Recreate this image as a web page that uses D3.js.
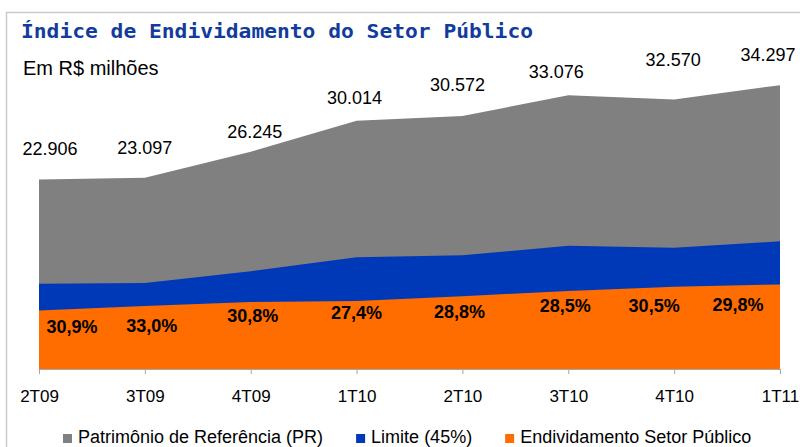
<!DOCTYPE html>
<html>
<head>
<meta charset="utf-8">
<script src="https://cdn.jsdelivr.net/npm/d3@7"></script>
<style>
  body { margin: 0; background: #fff; }
  svg { display: block; }
</style>
</head>
<body>
<script>
// quarters and values (R$ milhões)
var quarters = ["2T09", "3T09", "4T09", "1T10", "2T10", "3T10", "4T10", "1T11"];
var patrimonio = [22906, 23097, 26245, 30014, 30572, 33076, 32570, 34297];
var limite = [10308, 10394, 11810, 13506, 13757, 14884, 14657, 15434];
var endividamento = [7078, 7622, 8083, 8224, 8805, 9427, 9934, 10220];
var pctLabels = ["30,9%", "33,0%", "30,8%", "27,4%", "28,8%", "28,5%", "30,5%", "29,8%"];
var legendNames = ["Patrimônio de Referência (PR)", "Limite (45%)", "Endividamento Setor Público"];

// label nudges (px) as in the original layout
var valNudge = [[11, -31], [0, -30], [4, -20], [-2, -23], [-5, -31], [-12, -24], [-1, -40], [-12, -30]];
var pctNudge = [[33, 16], [7, 20], [2, 14], [0, 12], [-3, 16], [-3, 15], [-20, 19], [-42, 20]];

var colors = ["#808080", "#0039b8", "#ff6c00"];
var width = 800, height = 447;

var svg = d3.select("body").append("svg")
  .attr("width", width)
  .attr("height", height);

// frame
svg.append("path")
  .attr("d", "M6.5," + height + "V12.5H" + width)
  .attr("fill", "none")
  .attr("stroke", "#cccccc")
  .attr("stroke-width", 1.5);

svg.append("text")
  .attr("x", 21)
  .attr("y", 38)
  .attr("textLength", 512)
  .attr("lengthAdjust", "spacingAndGlyphs")
  .style("font-family", "'DejaVu Sans Mono', 'Liberation Mono', monospace")
  .style("font-weight", "bold")
  .style("font-size", "20px")
  .style("fill", "#123c9c")
  .text("Índice de Endividamento do Setor Público");

svg.append("text")
  .attr("x", 23)
  .attr("y", 75)
  .style("font-family", "'Liberation Sans', Arial, sans-serif")
  .style("font-size", "20px")
  .style("fill", "#000")
  .text("Em R$ milhões");

var x = d3.scalePoint().domain(quarters).range([39, 780]);
var y = d3.scaleLinear().domain([0, 40000]).range([369, 38]);

var series = [patrimonio, limite, endividamento];

var area = d3.area()
  .x(function(d, i) { return x(quarters[i]); })
  .y0(y(0))
  .y1(function(d) { return y(d); });

svg.selectAll("path.area")
  .data(series)
  .enter()
  .append("path")
  .attr("class", "area")
  .attr("d", function(d) { return area(d); })
  .attr("fill", function(d, i) { return colors[i]; });

// x axis
var axis = svg.append("g")
  .attr("transform", "translate(0," + y(0) + ")")
  .call(d3.axisBottom(x).tickSize(5).tickPadding(16).tickSizeOuter(0));
axis.select(".domain").attr("stroke", "#a6a6a6");
axis.selectAll(".tick line").attr("stroke", "#a6a6a6");
axis.selectAll(".tick text")
  .style("font-family", "'Liberation Sans', Arial, sans-serif")
  .style("font-size", "17px")
  .style("fill", "#000");

// value labels
svg.selectAll("text.val")
  .data(patrimonio)
  .enter()
  .append("text")
  .attr("class", "val")
  .attr("x", function(d, i) { return x(quarters[i]) + valNudge[i][0]; })
  .attr("y", function(d, i) { return y(d) + valNudge[i][1]; })
  .attr("dy", "0.35em")
  .attr("text-anchor", "middle")
  .style("font-family", "'Liberation Sans', Arial, sans-serif")
  .style("font-size", "18px")
  .style("fill", "#000")
  .text(function(d) { return d3.format(",")(d).replace(",", "."); });

svg.selectAll("text.pct")
  .data(endividamento)
  .enter()
  .append("text")
  .attr("class", "pct")
  .attr("x", function(d, i) { return x(quarters[i]) + pctNudge[i][0]; })
  .attr("y", function(d, i) { return y(d) + pctNudge[i][1]; })
  .attr("dy", "0.35em")
  .attr("text-anchor", "middle")
  .style("font-family", "'Liberation Sans', Arial, sans-serif")
  .style("font-weight", "bold")
  .style("font-size", "18px")
  .style("fill", "#000")
  .text(function(d, i) { return pctLabels[i]; });

// legend
var lx = 63;
legendNames.forEach(function(name, i) {
  svg.append("rect")
    .attr("x", lx)
    .attr("y", 434)
    .attr("width", 9)
    .attr("height", 9)
    .attr("fill", colors[i]);
  var t = svg.append("text")
    .attr("x", lx + 15)
    .attr("y", 443)
    .style("font-family", "'Liberation Sans', Arial, sans-serif")
    .style("font-size", "18px")
    .style("fill", "#000")
    .text(name);
  lx += 15 + t.node().getComputedTextLength() + 33;
});
</script>
</body>
</html>
